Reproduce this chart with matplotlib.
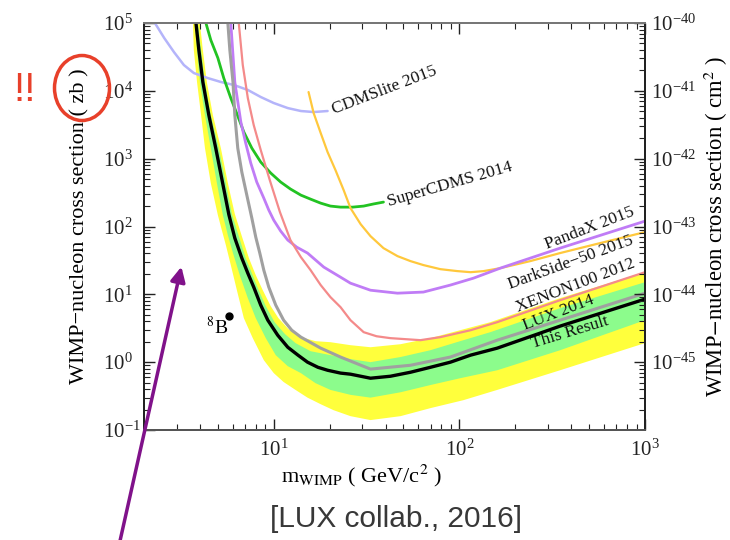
import numpy as np
import matplotlib
matplotlib.use('Agg')
import matplotlib.pyplot as plt
from matplotlib.patches import Ellipse, FancyArrowPatch
from matplotlib.ticker import LogLocator, NullFormatter

plt.rcParams['font.family'] = ['Liberation Serif', 'DejaVu Serif']
plt.rcParams['mathtext.fontset'] = 'stix'

# ---------------- data (mass in GeV/c^2, cross section in zb) ----------------
this_m = [3.81, 3.95, 4.15, 4.47, 4.87, 5.32, 5.73, 6.17, 6.73, 7.25, 7.80, 8.51, 9.29, 10.5,
          11.9, 13.5, 15.2, 17.3, 19.5, 22.9, 25.9, 33.2, 42.5, 54.5, 69.8, 89.5, 115, 160,
          349, 1000]
this_s = [1e5, 40000, 13500, 4390, 1430, 420, 150, 67.5, 34.2, 20.5, 12.8, 6.93, 4.16, 2.50,
          1.66, 1.27, 1.0, 0.84, 0.76, 0.69, 0.665, 0.58, 0.62, 0.71, 0.84, 1.0, 1.27, 1.61,
          3.40, 8.5]

green_hi_m = [3.90, 4.06, 4.26, 4.58, 5.06, 5.52, 5.95, 6.48, 7.06, 7.62, 8.30, 9.06, 10.1,
              11.5, 13.1, 15.8, 20.2, 25.9, 33.2, 48.2, 69.8, 101, 147, 349, 1000]
green_hi_s = [1e5, 40000, 13500, 4390, 1430, 437, 153, 72.1, 34.2, 20.5, 11.5, 6.70, 3.89,
              2.59, 1.91, 1.45, 1.27, 1.11, 1.0, 1.19, 1.50, 2.04, 2.77, 6.25, 15.1]
green_lo_m = [3.76, 3.86, 4.00, 4.26, 4.58, 4.94, 5.32, 5.66, 6.03, 6.56, 7.25, 8.00, 9.06,
              10.25, 11.9, 14.0, 16.8, 20.2, 25.9, 33.2, 48.2, 69.8, 101, 160, 349, 1000]
green_lo_s = [1e5, 40000, 13500, 4390, 1430, 437, 147, 74.7, 40.6, 19.2, 8.8, 4.46, 2.26,
              1.27, 0.873, 0.69, 0.49, 0.39, 0.33, 0.30, 0.36, 0.46, 0.58, 0.76, 1.50, 4.16]

yellow_hi_m = [4.00, 4.15, 4.36, 4.70, 5.19, 5.66, 6.17, 6.73, 7.35, 8.00, 8.73, 9.63, 10.6,
               12.0, 14.0, 16.8, 20.2, 25.9, 33.2, 48.2, 69.8, 101, 147, 349, 1000]
yellow_hi_s = [1e5, 40000, 13500, 4390, 1430, 437, 153, 72.1, 34.2, 19.2, 11.5, 6.70, 4.46,
               3.07, 2.34, 2.04, 1.97, 1.78, 1.66, 1.84, 2.26, 2.96, 3.89, 8.8, 21.2]
yellow_lo_m = [3.67, 3.71, 3.86, 4.06, 4.26, 4.58, 5.00, 5.25, 5.52, 5.87, 6.33, 6.90, 7.71,
               8.84, 10.0, 11.3, 13.1, 15.2, 17.9, 21.0, 25.9, 33.2, 48.2, 69.8, 105, 160,
               349, 1000]
yellow_lo_s = [1e5, 40000, 13500, 4390, 1430, 437, 147, 88.5, 53.2, 27, 11.5, 4.46, 2.26,
               1.07, 0.69, 0.51, 0.39, 0.30, 0.24, 0.196, 0.160, 0.140, 0.160, 0.21, 0.275,
               0.39, 0.76, 1.91]

lux14_m = [5.66, 5.80, 6.03, 6.17, 6.40, 6.73, 7.16, 7.62, 8.00, 8.41, 8.84, 9.40, 10.25, 11.3,
           12.5, 14.0, 17.9, 22.9, 33.2, 54.5, 89.5, 160, 349, 1000]
lux14_s = [1e5, 40000, 13500, 4390, 1430, 634, 290, 133, 69.8, 40.6, 22.7, 12.8, 6.93, 4.16,
           2.96, 2.34, 1.61, 1.19, 0.79, 0.90, 1.19, 2.11, 4.16, 10.4]

xenon_m = [6.48, 6.81, 7.25, 7.80, 8.51, 9.52, 10.8, 12.3, 14.0, 15.8, 17.9, 20.2, 22.9, 25.9,
           30.5, 35.8, 42.5, 61.7, 79.0, 115, 160, 349, 1000]
xenon_s = [1e5, 24000, 7830, 3130, 1340, 483, 163, 63.1, 35.4, 22.7, 13.7, 9.1, 6.47, 4.16,
           2.77, 2.41, 2.26, 2.11, 2.34, 2.96, 3.89, 8.2, 21.2]

panda_m = [5.87, 6.17, 6.65, 7.06, 7.52, 8.10, 8.84, 9.40, 10.0, 10.9, 11.9, 13.3, 15.2, 18.6,
           22.9, 25.9, 33.2, 46.4, 64.0, 89.5, 119, 166, 349, 1000]
panda_s = [1e5, 13500, 3470, 1700, 861, 452, 262, 175, 124, 85.5, 63.1, 49.6, 40.6, 25.2,
           17.9, 14.6, 11.5, 10.4, 10.8, 13.7, 17.3, 24.3, 48, 120]

scdms_m = [4.31, 4.58, 5.00, 5.38, 5.87, 6.40, 6.90, 7.62, 8.51, 9.63, 10.9, 12.3, 14.0, 15.8,
           17.9, 20.2, 22.9, 26.6, 30.5, 34.5, 39.0]
scdms_s = [1e5, 56100, 30500, 15400, 7830, 4250, 2470, 1430, 891, 614, 452, 357, 290, 253,
           221, 200, 193, 193, 200, 215, 229]

cdmslite_m = [2.29, 2.57, 2.90, 3.28, 3.71, 4.42, 5.19, 6.09, 7.25, 8.51, 10.0, 11.9, 14.0,
              16.4, 19.5]
cdmslite_s = [1e5, 60100, 37300, 24000, 18300, 15400, 13500, 12200, 10300, 8110, 6610, 5570,
              5040, 4870, 5040]

darkside_m = [15.4, 16.4, 17.9, 19.5, 21.5, 23.8, 25.9, 29.4, 33.2, 39.0, 46.4, 54.5, 64.0,
              79.0, 97.5, 115, 135, 166, 241, 349, 573, 1000]
darkside_s = [9600, 4710, 2390, 1250, 679, 344, 187, 108, 72.1, 48, 36.6, 30.9, 27, 23.5,
              22.0, 21.2, 22.0, 24.3, 30.9, 40.6, 56.9, 82.7]

b8_m = [5.73]
b8_s = [4.77]

left_exps = [-1, 0, 1, 2, 3, 4, 5]
right_exps = [-45, -44, -43, -42, -41, -40]

# ---------------- figure ----------------
W, H = 730, 540
fig = plt.figure(figsize=(W / 100, H / 100), dpi=100)
ax = fig.add_axes([144 / W, 110 / H, 501 / W, 407 / H])
ax.set_xscale('log')
ax.set_yscale('log')
ax.set_xlim(2, 1000)
ax.set_ylim(0.1, 1e5)

yellow = '#ffff3c'
green = '#8cfc8c'
ax.fill(np.r_[yellow_hi_m, yellow_lo_m[::-1]], np.r_[yellow_hi_s, yellow_lo_s[::-1]],
        color=yellow, lw=0, zorder=1)
ax.fill(np.r_[green_hi_m, green_lo_m[::-1]], np.r_[green_hi_s, green_lo_s[::-1]],
        color=green, lw=0, zorder=2)

line_kw = dict(solid_joinstyle='round', solid_capstyle='round')
ax.plot(cdmslite_m, cdmslite_s, color='#b4b4fa', lw=1.8, zorder=3, **line_kw)
ax.plot(scdms_m, scdms_s, color='#22c322', lw=2.0, zorder=3, **line_kw)
ax.plot(darkside_m, darkside_s, color='#ffc83c', lw=1.6, zorder=3, **line_kw)
ax.plot(panda_m, panda_s, color='#c07cf6', lw=2.0, zorder=3, **line_kw)
ax.plot(xenon_m, xenon_s, color='#f48a8a', lw=1.6, zorder=3, **line_kw)
ax.plot(lux14_m, lux14_s, color='#a0a0a0', lw=2.2, zorder=4, **line_kw)
ax.plot(this_m, this_s, color='black', lw=2.4, zorder=5, **line_kw)
ax.plot(b8_m, b8_s, 'o', color='black', ms=5, zorder=6)
ax.text(4.94, 3.28, r'$^{8}$B', fontsize=14, ha='center', va='center')

lab_kw = dict(fontsize=12.5, ha='left', va='baseline', rotation_mode='anchor', color='#111111')
ax.text(21.0, 4550, 'CDMSlite 2015', rotation=21, **lab_kw)
ax.text(41.5, 199, 'SuperCDMS 2014', rotation=16, **lab_kw)
ax.text(297, 46, 'PandaX 2015', rotation=21, **lab_kw)
ax.text(188, 11.9, 'DarkSide\u221250 2015', rotation=20, **lab_kw)
ax.text(207, 5.46, 'XENON100 2012', rotation=21, **lab_kw)
ax.text(226, 2.96, 'LUX 2014', rotation=21, **lab_kw)
ax.text(250, 1.61, 'This Result', rotation=17, **lab_kw)

# ticks
ax.xaxis.set_major_locator(LogLocator(base=10, numticks=10))
ax.xaxis.set_minor_locator(LogLocator(base=10, subs=np.arange(2, 10), numticks=10))
ax.xaxis.set_minor_formatter(NullFormatter())
ax.set_yticks([10.0 ** e for e in left_exps],
              [r'$\mathdefault{10^{%d}}$' % e for e in left_exps], ha='left')
ax.yaxis.set_minor_locator(LogLocator(base=10, subs=np.arange(2, 10), numticks=20))
ax.yaxis.set_minor_formatter(NullFormatter())
ax.tick_params(which='both', direction='in', top=True, right=False, colors='#222222',
               labelsize=15)
ax.tick_params(axis='y', which='major', pad=29.5)
ax.tick_params(axis='x', which='major', pad=7)
ax.tick_params(which='major', length=8, width=1.0)
ax.tick_params(which='minor', length=4, width=0.8)

ax2 = ax.twinx()
ax2.set_yscale('log')
ax2.set_ylim(1e-46, 1e-40)
ax2.set_yticks([10.0 ** e for e in right_exps],
               [r'$\mathdefault{10^{%d}}$' % e for e in right_exps])
ax2.yaxis.set_minor_locator(LogLocator(base=10, subs=np.arange(2, 10), numticks=20))
ax2.yaxis.set_minor_formatter(NullFormatter())
ax2.tick_params(which='both', direction='in', colors='#222222', labelsize=15)
ax2.tick_params(which='major', length=8, width=1.0, pad=4)
ax2.tick_params(which='minor', length=4, width=0.8)

for a in (ax, ax2):
    for s in a.spines.values():
        s.set_linewidth(1.4)
        s.set_color('#222222')
    a.spines['top'].set_color('#777777')
    a.spines['bottom'].set_color('#555555')

# axis labels
fig.text(80 / W, 1 - 226 / H, 'WIMP\u2212nucleon cross section ( zb )', rotation=90,
         ha='center', va='center', fontsize=16)
fig.text(716 / W, 1 - 227 / H, r'WIMP$-$nucleon cross section ( cm$^{2}$ )', rotation=90,
         ha='center', va='center', fontsize=16.3)
fig.text(281 / W, 1 - 482 / H, r'm$_{\rm WIMP}$ ( GeV/c$^{2}$ )', ha='left', va='baseline',
         fontsize=16)

# annotations
fig.text(396 / W, 1 - 519 / H, '[LUX collab., 2016]', ha='center', va='center', fontsize=21.5,
         family=['Liberation Sans', 'DejaVu Sans'], color='#383838')
fig.text(25 / W, 1 - 90 / H, '!!', ha='center', va='center', fontsize=29,
         family=['Liberation Sans', 'DejaVu Sans'], color='#e8402a')
fig.add_artist(Ellipse((82 / W, 1 - 88 / H), width=55 / W, height=65 / H,
                       transform=fig.transFigure, fill=False, ec='#e8402a', lw=2.5))
fig.add_artist(FancyArrowPatch((119 / W, -0.01), (182 / W, 1 - 264 / H),
                               transform=fig.transFigure, arrowstyle='-|>',
                               mutation_scale=22, color='#80128a', lw=2.5))

fig.savefig('out.png', dpi=100)
